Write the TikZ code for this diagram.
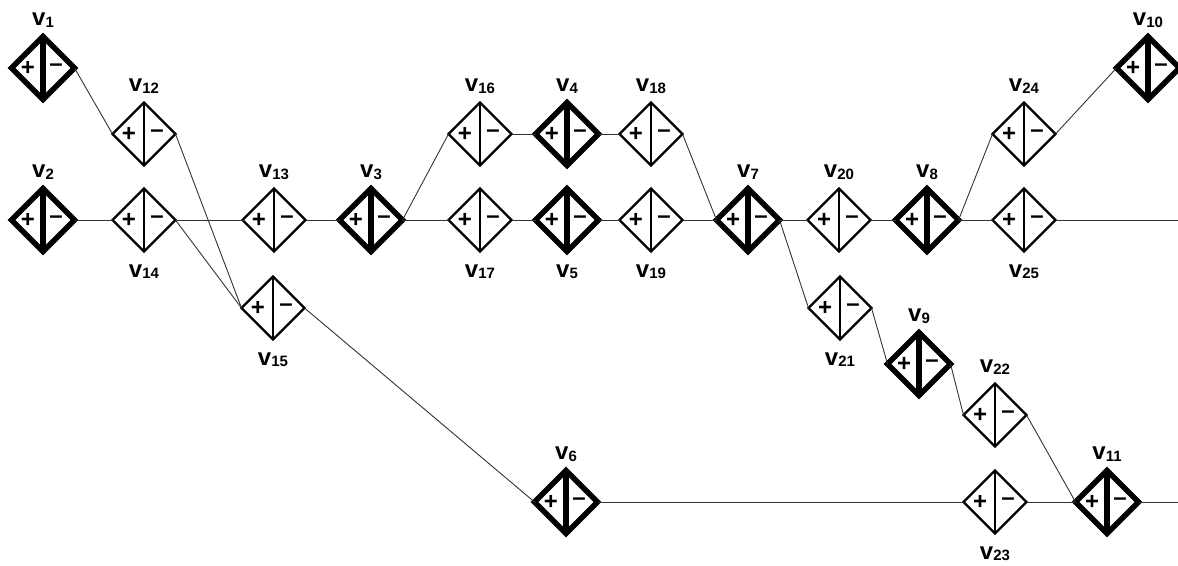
\documentclass[tikz,border=0pt]{standalone}
\usepackage{fontspec}
\setmainfont{Liberation Sans}
\usepackage{tikz}
\usetikzlibrary{shapes.geometric}

\newcommand{\vsub}[1]{v{\fontsize{15}{15}\selectfont\raisebox{-1.5pt}{#1}}}

\begin{document}
\begin{tikzpicture}[x=1pt, y=-1pt,
    sgn/.style={font=\fontsize{24}{24}\selectfont\bfseries, inner sep=0pt},
    gate/.style 2 args={diamond, draw, line width=#1, minimum width=63pt, minimum height=63pt,
        inner sep=0pt, outer sep=0pt,
        path picture={
            \draw[line width=#2] (path picture bounding box.north) -- (path picture bounding box.south);
            \node[sgn] at ([xshift=-15pt]path picture bounding box.center) {+};
            \node[sgn] at ([xshift=13pt]path picture bounding box.center) {–};
        }},
    vtx/.style={gate={2.4pt}{2.2pt}},
    vtxb/.style={gate={5.5pt}{6.5pt}},
    lab/.style={font=\fontsize{24}{24}\selectfont\bfseries, inner sep=1pt},
    labup/.style={label={[lab, label distance=8pt]above:#1}},
    labdn/.style={label={[lab, label distance=12pt]below:#1}},
    wire/.style={line width=0.9pt, black!80}]

    \useasboundingbox (0,0) rectangle (1178,565);

    % left part
    \node[vtxb, labup=\vsub{1}] (v1) at (43,68) {};
    \node[vtxb, labup=\vsub{2}] (v2) at (43,220) {};
    \node[vtx, labup=\vsub{12}] (v12) at (144,134) {};
    \node[vtx, labdn=\vsub{14}] (v14) at (144,220) {};
    \node[vtx, labup=\vsub{13}] (v13) at (274,220) {};
    \node[vtx, labdn=\vsub{15}] (v15) at (273,308) {};
    \node[vtxb, labup=\vsub{3}] (v3) at (371,220) {};

    % middle part
    \node[vtx, labup=\vsub{16}] (v16) at (480,134) {};
    \node[vtx, labdn=\vsub{17}] (v17) at (480,220) {};
    \node[vtxb, labup=\vsub{4}] (v4) at (567,134) {};
    \node[vtxb, labdn=\vsub{5}] (v5) at (567,220) {};
    \node[vtx, labup=\vsub{18}] (v18) at (651,134) {};
    \node[vtx, labdn=\vsub{19}] (v19) at (651,220) {};
    \node[vtxb, labup=\vsub{6}] (v6) at (566,502) {};
    \node[vtxb, labup=\vsub{7}] (v7) at (748,220) {};

    % right part
    \node[vtx, labup=\vsub{20}] (v20) at (839,220) {};
    \node[vtx, labdn=\vsub{21}] (v21) at (840,308) {};
    \node[vtxb, labup=\vsub{8}] (v8) at (927,220) {};
    \node[vtxb, labup=\vsub{9}] (v9) at (919,364) {};
    \node[vtx, labup=\vsub{22}] (v22) at (995,415) {};
    \node[vtx, labdn=\vsub{23}] (v23) at (995,502) {};
    \node[vtx, labup=\vsub{24}] (v24) at (1024,134) {};
    \node[vtx, labdn=\vsub{25}] (v25) at (1024,220) {};
    \node[vtxb, labup=\vsub{10}] (v10) at (1148,68) {};
    \node[vtxb, labup=\vsub{11}] (v11) at (1107,502) {};

    \coordinate (endmid) at (1178,220);
    \coordinate (endlow) at (1178,502);

    % connections
    \draw[wire] (v1.east) -- (v12.west);
    \draw[wire] (v12.east) -- (v15.west);
    \draw[wire] (v2.east) -- (v14.west);
    \draw[wire] (v14.east) -- (v13.west);
    \draw[wire] (v14.east) -- (v15.west);
    \draw[wire] (v13.east) -- (v3.west);
    \draw[wire] (v3.east) -- (v16.west);
    \draw[wire] (v3.east) -- (v17.west);
    \draw[wire] (v16.east) -- (v4.west);
    \draw[wire] (v17.east) -- (v5.west);
    \draw[wire] (v4.east) -- (v18.west);
    \draw[wire] (v5.east) -- (v19.west);
    \draw[wire] (v18.east) -- (v7.west);
    \draw[wire] (v19.east) -- (v7.west);
    \draw[wire] (v15.east) -- (v6.west);
    \draw[wire] (v6.east) -- (v23.west);
    \draw[wire] (v7.east) -- (v20.west);
    \draw[wire] (v7.east) -- (v21.west);
    \draw[wire] (v20.east) -- (v8.west);
    \draw[wire] (v21.east) -- (v9.west);
    \draw[wire] (v9.east) -- (v22.west);
    \draw[wire] (v22.east) -- (v11.west);
    \draw[wire] (v23.east) -- (v11.west);
    \draw[wire] (v8.east) -- (v24.west);
    \draw[wire] (v8.east) -- (v25.west);
    \draw[wire] (v24.east) -- (v10.west);
    \draw[wire] (v25.east) -- (endmid);
    \draw[wire] (v11.east) -- (endlow);

\end{tikzpicture}
\end{document}
